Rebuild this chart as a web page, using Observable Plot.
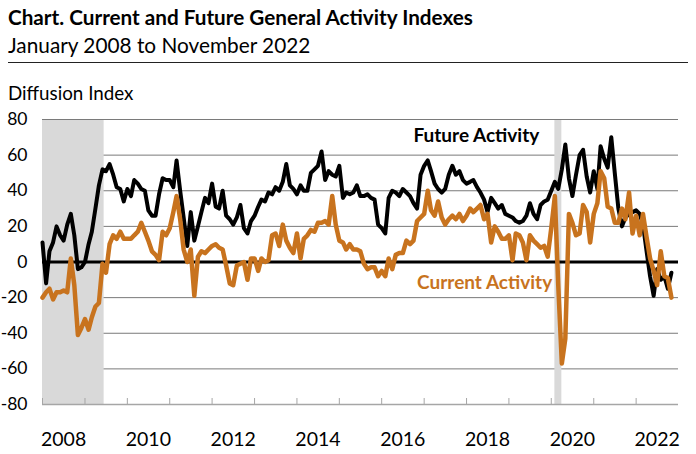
<!DOCTYPE html>
<html>
<head>
<meta charset="utf-8">
<script src="https://cdn.jsdelivr.net/npm/d3@7"></script>
<script src="https://cdn.jsdelivr.net/npm/@observablehq/plot@0.6"></script>
<style>
  body { margin: 0; background: #fff; font-family: Lato, "Open Sans", sans-serif; color: #000; }
  #wrap { width: 696px; }
  #head { position: relative; height: 105px; }
  #title { position: absolute; left: 8px; top: 5px; font-weight: 700; font-size: 20.7px; line-height: 25px; white-space: nowrap; }
  #sub { position: absolute; left: 8px; top: 32px; font-size: 20.8px; line-height: 25px; white-space: nowrap; }
  #rule { position: absolute; left: 8px; top: 62px; width: 680px; height: 0; border-top: 1.5px solid #222; }
  #ylab { position: absolute; left: 8px; top: 81px; font-size: 18.8px; line-height: 23px; white-space: nowrap; }
</style>
</head>
<body>
<div id="wrap">
  <div id="head">
    <div id="title">Chart. Current and Future General Activity Indexes</div>
    <div id="sub">January 2008 to November 2022</div>
    <div id="rule"></div>
    <div id="ylab">Diffusion Index</div>
  </div>
  <div id="chart"></div>
</div>
<script>
// Monthly values, January 2008 .. November 2022
const currentActivity = [
  -20,-17,-15,-21,-17,-17,-16,-17,2,-13,-41,-37,   // 2008
  -32,-38,-31,-25,-23,-1,-6,10,15,13,17,13,         // 2009
  13,13,15,17,22,17,12,6,4,1,17,15,                 // 2010
  19,28,37,24,7,0,7,-19,3,6,5,7,                    // 2011
  9,10,8,7,-2,-12,-13,-2,-1,0,-10,2,                // 2012
  2,-5,2,0,1,15,16,9,21,12,8,5,                     // 2013
  16,2,13,15,18,17,22,22,23,21,37,21,               // 2014
  12,11,7,10,7,7,6,-1,-4,-3,-3,-8,                  // 2015
  -5,-8,2,-4,4,5,5,12,10,12,23,25,                  // 2016
  27,40,29,26,34,25,21,24,26,24,27,23,              // 2017
  26,30,28,30,32,24,27,11,20,17,13,13,              // 2018
  15,1,16,15,11,1,15,12,10,8,9,3,                   // 2019
  19,37,-13,-57,-43,27,22,15,16,32,28,11,           // 2020
  27,33,51,47,31,30,22,22,30,24,39,16,              // 2021
  26,15,27,14,2,-5,-13,6,-8,-9,-20                  // 2022
];
const futureActivity = [
  11,-12,6,11,20,15,12,21,27,15,-4,-3,              // 2008
  0,10,17,30,43,52,51,55,49,42,41,34,               // 2009
  41,37,46,44,41,40,29,26,26,38,47,46,              // 2010
  46,42,57,40,25,9,28,12,20,28,36,33,               // 2011
  44,31,30,40,26,24,21,25,32,19,16,23,              // 2012
  26,31,35,34,39,38,42,40,45,55,43,41,              // 2013
  38,43,40,40,50,52,54,62,46,51,49,48,              // 2014
  54,36,39,38,39,43,37,37,38,36,35,21,              // 2015
  19,16,36,40,39,37,41,39,37,33,30,49,              // 2016
  54,57,51,44,41,39,41,49,54,49,51,46,              // 2017
  44,45,46,42,39,35,28,36,33,30,32,27,              // 2018
  26,25,23,22,23,26,33,27,24,32,34,35,              // 2019
  40,45,41,52,66,47,37,49,60,63,48,39,              // 2020
  51,41,65,58,53,70,50,30,20,25,27,28,              // 2021
  29,27,21,6,-8,-19,-4,-10,-8,-15,-6                // 2022
];
const yTicks = [-80,-60,-40,-20,0,20,40,60,80];
const yearLabels = [2008,2010,2012,2014,2016,2018,2020,2022];
const recessions = [
  {start: "2007-12-01", end: "2009-06-15"},
  {start: "2020-02-01", end: "2020-04-01"}
];
const seriesLabels = [
  {label: "Future Activity", date: "2016-10-01", value: 71, color: "#000000"},
  {label: "Current Activity", date: "2016-11-01", value: -12, color: "#c8731e"}
];

const domainStart = new Date(Date.UTC(2008, 0, 1));
const domainEnd = new Date(Date.UTC(2023, 0, 1));
const months = d3.utcMonth.range(domainStart, new Date(Date.UTC(2022, 11, 1)));
const rows = months.map((d, i) => ({date: d, current: currentActivity[i], future: futureActivity[i]}));
const yearStarts = d3.utcYear.range(domainStart, domainEnd);
const labelDates = yearLabels.map(y => new Date(Date.UTC(y, 6, 1)));
const shades = recessions.map(r => ({
  x1: new Date(Math.max(+new Date(r.start), +domainStart)),
  x2: new Date(r.end)
}));
const notes = seriesLabels.map(d => ({...d, date: new Date(d.date)}));
const orange = "#c8731e";

const chart = Plot.plot({
  width: 696,
  height: 349,
  marginTop: 14,
  marginBottom: 50,
  marginLeft: 42,
  marginRight: 18,
  style: {fontFamily: "Lato, 'Open Sans', sans-serif", background: "#fff", overflow: "visible"},
  x: {type: "utc", domain: [domainStart, domainEnd], label: null},
  y: {domain: [-80, 80], label: null},
  marks: [
    Plot.ruleY(yTicks.filter(v => Math.abs(v) !== 80 && v !== 0), {stroke: "#7a7a7a", strokeWidth: 1}),
    Plot.rectX(shades, {x1: "x1", x2: "x2", y1: () => -80, y2: () => 80, fill: "#d9d9d9"}),
    Plot.ruleY([80], {stroke: "#7a7a7a", strokeWidth: 1}),
    Plot.ruleY([-80], {stroke: "#a6a6a6", strokeWidth: 1.5}),
    Plot.ruleX(yearStarts, {x: d => d, y1: () => -80, y2: () => -80, insetTop: -6, stroke: "#a6a6a6", strokeWidth: 1}),
    Plot.ruleY([0], {stroke: "#000", strokeWidth: 2.8}),
    Plot.line(rows, {x: "date", y: "future", stroke: "#000", strokeWidth: 4}),
    Plot.line(rows, {x: "date", y: "current", stroke: orange, strokeWidth: 4.5}),
    Plot.text(notes.slice(0, 1), {x: "date", y: "value", text: "label", textAnchor: "start", fill: "#000", fontSize: 19, fontWeight: "bold"}),
    Plot.text(notes.slice(1), {x: "date", y: "value", text: "label", textAnchor: "start", fill: orange, fontSize: 19, fontWeight: "bold"}),
    Plot.axisY({ticks: yTicks, tickSize: 0, tickPadding: 15, fontSize: 17.5, tickFormat: d => String(d), label: null}),
    Plot.axisX({ticks: labelDates, tickSize: 0, tickPadding: 28, fontSize: 19.5, tickFormat: d3.utcFormat("%Y"), label: null})
  ]
});
document.getElementById("chart").appendChild(chart);
</script>
</body>
</html>
